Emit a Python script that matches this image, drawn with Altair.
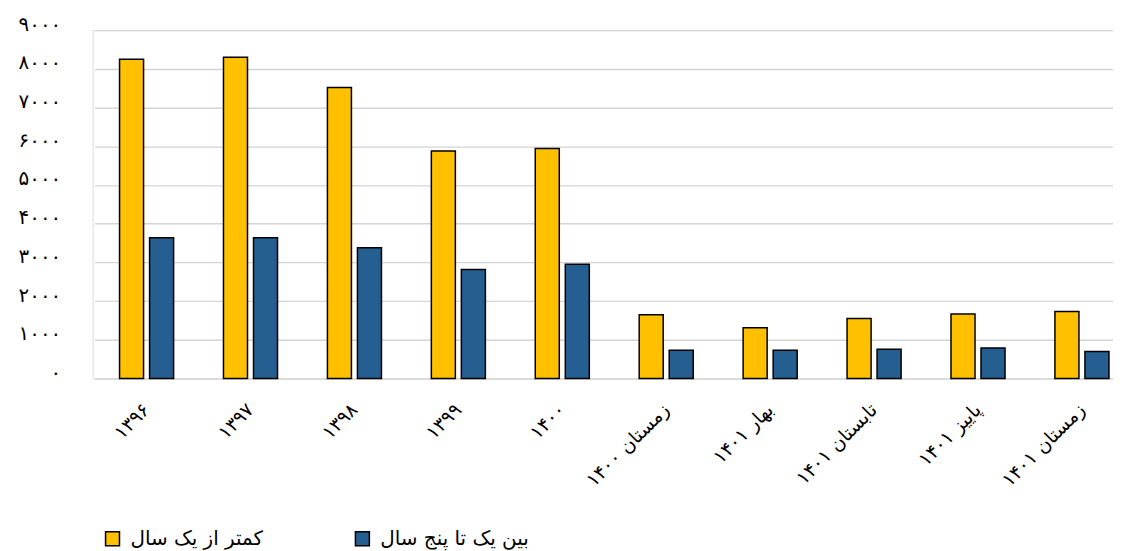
import json
import altair as alt
import pandas as pd

categories = ["۱۳۹۶", "۱۳۹۷", "۱۳۹۸", "۱۳۹۹", "۱۴۰۰",
              "زمستان ۱۴۰۰", "بهار ۱۴۰۱", "تابستان ۱۴۰۱", "پاییز ۱۴۰۱", "زمستان ۱۴۰۱"]
series_names = ["کمتر از یک سال", "بین یک تا پنج سال"]
less_than_one = [8250, 8300, 7520, 5880, 5940, 1650, 1310, 1550, 1670, 1730]
one_to_five = [3640, 3640, 3380, 2820, 2950, 730, 730, 760, 790, 700]
y_tick_labels = ["۰", "۱۰۰۰", "۲۰۰۰", "۳۰۰۰", "۴۰۰۰", "۵۰۰۰", "۶۰۰۰", "۷۰۰۰", "۸۰۰۰", "۹۰۰۰"]
colors = ["#FFC000", "#255E91"]

rows = []
for i, c in enumerate(categories):
    rows.append({"cat": c, "series": series_names[0], "value": less_than_one[i]})
    rows.append({"cat": c, "series": series_names[1], "value": one_to_five[i]})
df = pd.DataFrame(rows)

FONT = "DejaVu Sans"

chart = alt.Chart(df).mark_bar(stroke="black", strokeWidth=1.5).encode(
    x=alt.X("cat:N", sort=categories, title=None,
            scale=alt.Scale(range=[2, 1046], paddingInner=0.48, paddingOuter=0.24),
            axis=alt.Axis(labelAngle=-45, labelAlign="right", labelBaseline="middle",
                          labelPadding=28, domain=False, ticks=False,
                          labelFont=FONT, labelFontSize=19, labelColor="black",
                          labelLimit=300)),
    xOffset=alt.XOffset("series:N", sort=series_names,
                        scale=alt.Scale(paddingInner=0.2, paddingOuter=0)),
    y=alt.Y("value:Q", title=None,
            scale=alt.Scale(domain=[0, 9000], nice=False),
            axis=alt.Axis(values=list(range(0, 9001, 1000)),
                          labelExpr=json.dumps(y_tick_labels) + "[round(datum.value/1000)]",
                          domain=False, ticks=False, labelPadding=32,
                          labelBaseline="alphabetic",
                          labelFont=FONT, labelFontSize=20, labelColor="black",
                          gridColor="#D4D4D4", gridWidth=1.4)),
    color=alt.Color("series:N", sort=series_names,
                    scale=alt.Scale(domain=series_names, range=colors),
                    legend=alt.Legend(title=None, orient="none", legendX=10, legendY=501,
                                      direction="horizontal", gridAlign="all",
                                      columnPadding=73,
                                      symbolType="square", symbolSize=196,
                                      symbolStrokeColor="black", symbolStrokeWidth=1.5,
                                      symbolOpacity=1,
                                      labelFont=FONT, labelFontSize=20, labelColor="black",
                                      labelOffset=8, labelLimit=300)),
).properties(
    width=1025, height=350,
    autosize=alt.AutoSizeParams(type="none"),
    padding={"left": 85, "top": 21, "right": 0, "bottom": 173},
).configure_view(stroke=None).configure(background="white")

chart.save("out.html", embed_options={"renderer": "svg", "actions": False})
